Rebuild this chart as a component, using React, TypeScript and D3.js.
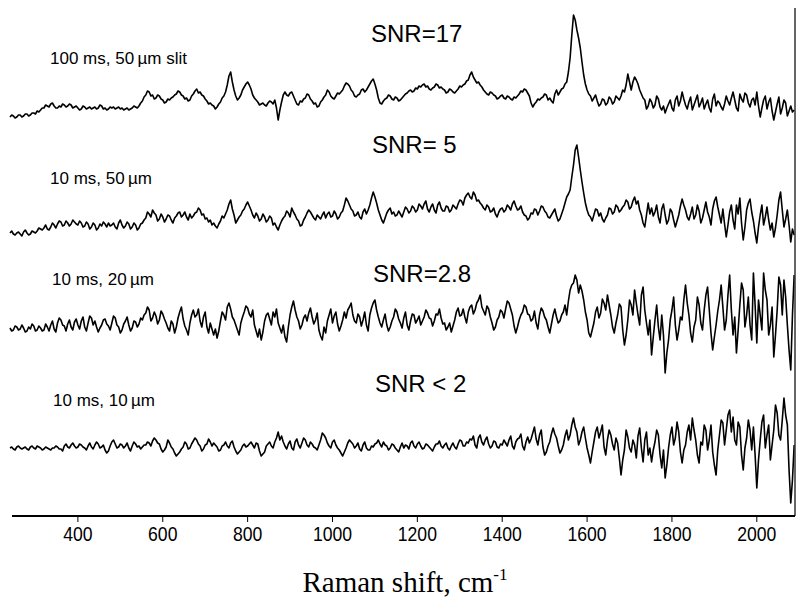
import React from 'react';
import * as d3 from 'd3';

const W = 801;
const H = 599;

// Raman shift grid (cm-1): first point and spacing
const START = 240;
const STEP = 4;

const xTicks = [400, 600, 800, 1000, 1200, 1400, 1600, 1800, 2000];
const snrLabels = ['SNR=17', 'SNR= 5', 'SNR=2.8', 'SNR < 2'];
const condLabels = ['100 ms, 50\u2009\u00b5m slit', '10 ms, 50\u2009\u00b5m', '10 ms, 20\u2009\u00b5m', '10 ms, 10\u2009\u00b5m'];
// vertical stacking offsets of the traces (intensity units)
const offsets = [396, 271, 171, 56];

// 100 ms, 50 um slit
const spec100ms50 = [
  3, 5, 4, 2, 3, 5, 5, 3, 4, 6, 6, 4, 5, 7, 7, 6, 9, 8, 10, 12,
  12, 15, 14, 13, 16, 17, 14, 12, 12, 14, 13, 16, 15, 13, 14, 16, 15, 12, 13, 14,
  12, 10, 11, 14, 13, 11, 12, 13, 11, 12, 13, 11, 12, 15, 14, 11, 12, 10, 11, 13,
  12, 13, 11, 12, 13, 11, 12, 10, 11, 12, 10, 11, 12, 14, 13, 12, 14, 17, 19, 23,
  25, 29, 28, 24, 25, 21, 22, 25, 24, 21, 20, 17, 18, 21, 20, 22, 23, 25, 26, 29,
  28, 25, 24, 21, 22, 19, 20, 24, 26, 29, 31, 27, 28, 25, 24, 21, 19, 16, 17, 15,
  14, 11, 13, 16, 18, 22, 24, 28, 35, 44, 48, 38, 30, 24, 20, 22, 25, 30, 33, 36,
  38, 35, 31, 25, 22, 20, 18, 15, 16, 17, 15, 14, 17, 19, 18, 16, 20, 12, 0, 10,
  18, 25, 28, 25, 24, 27, 28, 24, 20, 16, 15, 19, 18, 21, 22, 26, 25, 21, 19, 16,
  17, 13, 14, 18, 20, 23, 25, 30, 28, 24, 22, 21, 24, 27, 26, 28, 30, 34, 37, 36,
  34, 30, 28, 24, 23, 25, 26, 30, 31, 28, 30, 33, 36, 39, 41, 36, 30, 22, 17, 16,
  19, 21, 22, 25, 24, 21, 20, 23, 22, 19, 20, 22, 24, 26, 27, 29, 30, 28, 29, 32,
  31, 34, 33, 35, 36, 33, 34, 31, 30, 32, 33, 36, 35, 32, 33, 31, 30, 27, 28, 31,
  30, 28, 27, 29, 31, 34, 33, 35, 36, 39, 40, 45, 48, 43, 40, 37, 38, 35, 33, 30,
  28, 26, 25, 28, 27, 25, 24, 21, 22, 24, 25, 22, 21, 24, 23, 21, 20, 23, 22, 24,
  26, 29, 28, 31, 30, 27, 24, 17, 13, 16, 18, 21, 20, 22, 23, 26, 25, 20, 22, 19,
  17, 26, 30, 25, 28, 31, 32, 36, 38, 48, 62, 85, 105, 100, 90, 82, 72, 58, 45, 36,
  30, 26, 24, 19, 22, 25, 19, 14, 16, 21, 20, 15, 17, 23, 21, 16, 18, 24, 22, 20,
  24, 30, 28, 35, 46, 38, 30, 38, 43, 40, 36, 30, 26, 22, 20, 11, 14, 21, 18, 12,
  15, 24, 21, 13, 10, 14, 7, 12, 16, 20, 12, 9, 20, 24, 14, 19, 28, 21, 15, 11,
  18, 23, 10, 15, 20, 25, 13, 17, 22, 11, 16, 20, 12, 8, 21, 26, 14, 19, 17, 13,
  10, 16, 24, 19, 15, 22, 28, 20, 12, 9, 26, 21, 18, 27, 25, 17, 13, 20, 22, 15,
  28, 14, 3, 12, 20, 24, 11, 18, 22, 9, 0, 8, 16, 23, 6, 12, 20, 17, 4, 9,
  14, 8, 10,
];

// 10 ms, 50 um
const spec10ms50 = [
  12, 14, 11, 10, 12, 13, 11, 9, 13, 15, 12, 10, 11, 14, 13, 12, 14, 17, 16, 15,
  17, 20, 16, 15, 18, 22, 20, 17, 21, 24, 23, 19, 20, 24, 22, 19, 21, 25, 23, 21,
  20, 24, 22, 18, 19, 23, 21, 16, 18, 22, 20, 15, 17, 21, 19, 23, 21, 18, 22, 19,
  20, 22, 18, 16, 22, 25, 20, 17, 19, 23, 21, 16, 18, 22, 20, 15, 17, 21, 22, 25,
  27, 33, 31, 28, 35, 32, 30, 24, 26, 31, 28, 23, 26, 30, 29, 25, 22, 27, 29, 32,
  33, 28, 30, 33, 28, 25, 31, 27, 29, 32, 33, 37, 35, 30, 31, 26, 27, 23, 25, 20,
  22, 19, 17, 21, 24, 29, 27, 31, 35, 41, 45, 36, 30, 22, 25, 28, 30, 34, 36, 40,
  43, 39, 35, 30, 27, 32, 29, 24, 26, 31, 28, 23, 25, 29, 27, 20, 22, 18, 15, 20,
  24, 27, 29, 34, 32, 28, 37, 33, 30, 26, 24, 19, 20, 25, 28, 32, 35, 33, 30, 27,
  25, 30, 28, 26, 30, 33, 27, 31, 33, 28, 29, 34, 31, 26, 28, 32, 34, 40, 47, 44,
  40, 36, 34, 29, 30, 33, 28, 26, 33, 36, 31, 35, 40, 47, 53, 48, 42, 35, 30, 25,
  22, 27, 32, 35, 37, 31, 33, 29, 30, 34, 31, 28, 33, 38, 36, 32, 34, 39, 37, 33,
  35, 41, 39, 36, 41, 44, 36, 33, 38, 41, 35, 32, 40, 43, 37, 34, 34, 39, 38, 33,
  35, 40, 38, 36, 41, 45, 44, 40, 47, 50, 52, 48, 46, 53, 50, 44, 45, 42, 40, 37,
  35, 40, 38, 33, 34, 37, 31, 28, 33, 36, 37, 33, 35, 40, 38, 35, 41, 44, 39, 35,
  36, 39, 33, 30, 29, 25, 27, 32, 31, 36, 35, 30, 34, 39, 38, 34, 32, 28, 27, 30,
  33, 36, 29, 24, 26, 31, 36, 42, 48, 51, 55, 68, 80, 95, 100, 88, 75, 63, 52, 42,
  35, 30, 28, 24, 30, 36, 35, 29, 32, 26, 23, 27, 30, 37, 36, 31, 33, 40, 38, 33,
  35, 38, 40, 45, 43, 36, 38, 44, 48, 41, 44, 35, 30, 22, 18, 30, 42, 31, 37, 29,
  33, 40, 28, 22, 36, 41, 30, 21, 25, 36, 33, 25, 18, 24, 30, 39, 46, 40, 35, 28,
  25, 31, 38, 26, 30, 40, 34, 22, 27, 35, 43, 33, 28, 20, 36, 44, 48, 38, 30, 22,
  36, 21, 8, 20, 33, 40, 25, 16, 40, 31, 47, 22, 5, 18, 35, 42, 46, 33, 24, 12,
  2, 18, 30, 40, 20, 28, 38, 25, 15, 22, 8, 17, 30, 45, 53, 35, 18, 26, 35, 20,
  3, 16, 10,
];

// 10 ms, 20 um
const spec10ms20 = [
  17, 14, 15, 19, 18, 15, 16, 20, 17, 13, 14, 18, 16, 21, 19, 14, 15, 19, 17, 14,
  15, 21, 18, 14, 20, 24, 16, 13, 22, 27, 25, 20, 19, 14, 21, 25, 18, 15, 23, 26,
  20, 16, 24, 28, 18, 14, 22, 29, 27, 20, 24, 18, 13, 17, 20, 25, 26, 21, 19, 15,
  22, 29, 27, 20, 18, 12, 15, 21, 24, 28, 20, 14, 17, 24, 23, 18, 21, 27, 25, 30,
  32, 38, 35, 24, 27, 33, 29, 21, 25, 34, 31, 26, 22, 17, 14, 24, 21, 12, 18, 27,
  33, 38, 26, 19, 15, 10, 22, 30, 35, 28, 30, 36, 24, 18, 28, 33, 18, 12, 22, 16,
  10, 16, 7, 14, 24, 33, 30, 25, 38, 42, 36, 28, 25, 20, 15, 10, 22, 28, 33, 39,
  37, 31, 28, 35, 20, 14, 8, 16, 5, 13, 24, 30, 32, 26, 20, 33, 28, 36, 22, 17,
  12, 20, 8, 3, 18, 30, 38, 44, 35, 28, 24, 16, 20, 27, 30, 24, 32, 37, 28, 21,
  25, 32, 15, 9, 5, 18, 12, 24, 30, 36, 22, 29, 33, 21, 14, 19, 25, 33, 27, 35,
  38, 42, 30, 24, 22, 31, 28, 19, 25, 33, 20, 14, 30, 37, 42, 45, 35, 28, 22, 18,
  25, 31, 20, 14, 18, 24, 28, 36, 33, 26, 22, 17, 27, 33, 20, 15, 24, 31, 30, 22,
  25, 29, 20, 24, 28, 35, 32, 27, 26, 19, 24, 31, 30, 36, 27, 21, 22, 15, 18, 22,
  13, 19, 25, 33, 37, 29, 30, 36, 28, 22, 33, 38, 40, 31, 35, 42, 45, 50, 38, 34,
  30, 39, 36, 28, 22, 15, 18, 25, 28, 35, 33, 27, 36, 44, 42, 36, 30, 19, 12, 18,
  25, 30, 33, 40, 38, 31, 30, 24, 26, 34, 22, 16, 30, 37, 34, 28, 25, 18, 12, 21,
  30, 36, 28, 22, 24, 30, 33, 40, 30, 44, 55, 60, 62, 70, 65, 52, 60, 54, 45, 33,
  25, 12, 8, 15, 22, 33, 38, 27, 32, 46, 42, 35, 50, 40, 30, 18, 12, 22, 30, 41,
  38, 15, 0, 10, 25, 45, 40, 30, 55, 42, 30, 20, 50, 58, 35, 22, 10, 25, -10, 8,
  25, 40, 18, 5, 30, 10, -28, -8, 5, 25, 35, 48, 20, 5, 15, 28, 25, 45, 60, 42,
  30, 12, 3, 18, 25, 48, 40, 22, 15, 35, 50, 58, 35, 12, -5, 8, 20, 34, 45, 60,
  38, 15, 25, 50, 70, 35, 10, 28, -8, 15, 40, 62, 55, 18, 30, 48, 20, 5, 72, 40,
  2, 45, 30, 15, 72, 55, 45, 10, 20, 38, -12, 10, 35, 68, 60, 30, 65, 48, 20, -5,
  -25, 30, 70,
];

// 10 ms, 10 um
const spec10ms10 = [
  12, 13, 11, 10, 13, 14, 12, 11, 12, 13, 11, 10, 13, 14, 12, 11, 14, 13, 12, 10,
  11, 13, 12, 11, 10, 12, 12, 14, 13, 11, 11, 9, 14, 16, 13, 12, 15, 17, 14, 12,
  13, 16, 15, 13, 12, 10, 14, 17, 13, 11, 15, 18, 16, 12, 13, 15, 10, 7, 9, 14,
  18, 20, 16, 12, 13, 16, 15, 12, 14, 17, 12, 9, 14, 18, 16, 13, 14, 11, 13, 15,
  15, 18, 17, 14, 19, 22, 20, 17, 16, 11, 8, 10, 13, 20, 17, 13, 11, 7, 4, 6,
  8, 11, 13, 18, 16, 11, 12, 16, 19, 22, 20, 16, 14, 9, 11, 15, 16, 21, 18, 14,
  17, 15, 13, 9, 10, 14, 15, 18, 14, 12, 17, 19, 13, 9, 6, 8, 10, 14, 16, 13,
  14, 16, 18, 15, 12, 17, 16, 9, 4, 6, 8, 14, 16, 18, 14, 12, 18, 22, 28, 20,
  24, 18, 14, 11, 16, 19, 12, 10, 18, 21, 15, 12, 17, 22, 20, 15, 13, 18, 16, 13,
  12, 10, 15, 20, 27, 25, 22, 17, 14, 12, 18, 20, 15, 12, 10, 7, 4, 8, 12, 17,
  20, 18, 16, 12, 14, 17, 11, 9, 15, 18, 12, 10, 10, 14, 13, 16, 17, 20, 16, 13,
  18, 15, 14, 10, 12, 16, 15, 12, 10, 8, 13, 17, 12, 15, 14, 11, 17, 19, 14, 12,
  16, 18, 14, 11, 12, 16, 15, 13, 11, 9, 13, 16, 16, 19, 14, 12, 15, 17, 12, 10,
  14, 17, 13, 11, 16, 20, 19, 14, 14, 18, 17, 21, 20, 24, 15, 12, 22, 25, 18, 15,
  20, 23, 16, 12, 14, 19, 18, 13, 12, 16, 15, 20, 17, 14, 20, 24, 14, 11, 18, 21,
  22, 26, 14, 10, 18, 23, 17, 21, 27, 33, 21, 15, 25, 30, 13, 5, 8, 14, 18, 26,
  32, 26, 22, 14, 7, 10, 15, 24, 30, 20, 25, 35, 42, 33, 28, 15, 20, 28, 33, 22,
  12, 5, -3, 8, 18, 28, 33, 22, 28, 35, 13, 5, 20, 30, 25, 16, 10, 22, 17, 2,
  -15, 0, 10, 30, 23, 12, 8, 20, 15, 2, 24, 32, 12, -2, 20, 28, 5, 12, -2, 10,
  18, 30, 25, 5, -8, 10, -18, -5, 12, 25, 33, 15, 22, 38, 28, 8, -3, 10, 15, 28,
  35, 20, 42, 30, 20, 5, -3, 18, 15, 35, 30, 10, 20, 35, 8, -5, -15, 10, 25, 40,
  37, 15, 30, 45, 50, 28, 43, 20, 15, 38, 33, 5, -10, 12, 22, 40, 30, 10, 33, 5,
  -28, 0, 20, 38, 45, 12, 25, 35, 0, 15, 30, 55, 47, 25, 20, 40, 62, 45, 35, -10,
  -43, -20, 15,
];

const spectra = [spec100ms50, spec10ms50, spec10ms20, spec10ms10];

const x = d3.scaleLinear().domain([240, 2090]).range([10, 795]);
const y = d3.scaleLinear().domain([0, 516]).range([516, 0]);

const snrPos = [
  { x: 371, y: 42 },
  { x: 372, y: 153 },
  { x: 373, y: 282 },
  { x: 375, y: 392 },
];
const condPos = [
  { x: 50, y: 64 },
  { x: 50, y: 184 },
  { x: 52, y: 285 },
  { x: 53, y: 406 },
];

export default function App() {
  const paths = spectra.map((vals, k) => {
    const line = d3
      .line<number>()
      .x((_, i) => x(START + STEP * i))
      .y((d) => y(offsets[k] + d));
    return line(vals) || '';
  });
  const sans = 'Arial, "Liberation Sans", sans-serif';
  return (
    <svg
      width={W}
      height={H}
      viewBox={`0 0 ${W} ${H}`}
      style={{ position: 'absolute', left: 0, top: 0, background: '#fff' }}
    >
      <rect x={0} y={0} width={W} height={H} fill="#fff" />
      {paths.map((d, k) => (
        <path key={k} d={d} fill="none" stroke="#000" strokeWidth={1.6} strokeLinejoin="round" />
      ))}
      {snrLabels.map((t, k) => (
        <text key={'s' + k} x={snrPos[k].x} y={snrPos[k].y} fontFamily={sans} fontSize={24} fill="#000">
          {t}
        </text>
      ))}
      {condLabels.map((t, k) => (
        <text key={'c' + k} x={condPos[k].x} y={condPos[k].y} fontFamily={sans} fontSize={17} fill="#000">
          {t}
        </text>
      ))}
      {/* right frame line */}
      <line x1={795} x2={795} y1={8} y2={516} stroke="#333" strokeWidth={1.5} />
      {/* x axis */}
      <line x1={x(240) + 2} x2={795} y1={516} y2={516} stroke="#000" strokeWidth={2} />
      {xTicks.map((t) => (
        <g key={t} transform={`translate(${x(t)},516)`}>
          <line y1={0} y2={6} stroke="#000" strokeWidth={1} />
          <text
            y={25}
            textAnchor="middle"
            fontFamily={sans}
            fontSize={20}
            fill="#000"
            transform="scale(0.88,1)"
          >
            {t}
          </text>
        </g>
      ))}
      <text x={405} y={592} textAnchor="middle" fontFamily='"Times New Roman", "Liberation Serif", serif' fontSize={29} fill="#000">
        Raman shift, cm
        <tspan fontSize={17} dy={-12}>-1</tspan>
      </text>
    </svg>
  );
}
